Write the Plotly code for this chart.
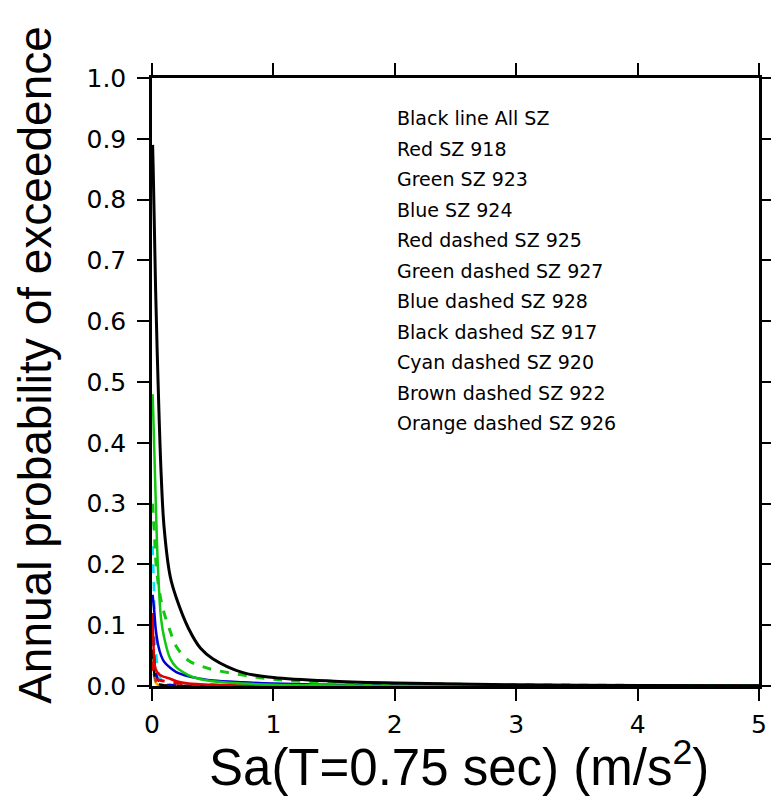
import plotly.graph_objects as go

# Spectral acceleration Sa (m/s^2)
sa = [0.005, 0.01, 0.02, 0.03, 0.05, 0.075, 0.1, 0.15, 0.2, 0.3, 0.4, 0.5,
      0.75, 1.0, 1.5, 2.0, 3.0, 4.0, 5.0]

# Annual probability of exceedence per source zone
all_sz = [0.89, 0.85, 0.75, 0.65, 0.50, 0.35, 0.26, 0.18, 0.145, 0.095, 0.062, 0.045,
          0.022, 0.014, 0.008, 0.005, 0.002, 0.001, 0.0006]
sz918 = [0.12, 0.08, 0.04, 0.028, 0.021, 0.017, 0.015, 0.012, 0.008, 0.004, 0.003, 0.002,
         0.001, 0.0005, 0.0003, 0.0002, 0.0001, 0.00005, 0.00003]
sz923 = [0.48, 0.45, 0.38, 0.31, 0.19, 0.11, 0.08, 0.045, 0.031, 0.018, 0.011, 0.008,
         0.004, 0.002, 0.001, 0.0005, 0.0002, 0.0001, 0.00005]
sz924 = [0.15, 0.14, 0.12, 0.095, 0.068, 0.05, 0.04, 0.03, 0.023, 0.016, 0.012, 0.009,
         0.006, 0.004, 0.002, 0.001, 0.0005, 0.0002, 0.0001]
sz925 = [0.04, 0.025, 0.015, 0.012, 0.01, 0.009, 0.008, 0.006, 0.005, 0.003, 0.002, 0.0015,
         0.0008, 0.0004, 0.0002, 0.0001, 0.00005, 0.00002, 0.00001]
sz927 = [0.30, 0.28, 0.25, 0.21, 0.17, 0.14, 0.12, 0.09, 0.065, 0.042, 0.033, 0.027,
         0.018, 0.011, 0.005, 0.004, 0.002, 0.001, 0.0005]
sz928 = [0.11, 0.08, 0.045, 0.025, 0.01, 0.005, 0.003, 0.0015, 0.001, 0.0005, 0.0003, 0.0002,
         0.0001, 0.00005, 0.00002, 0.00001, 0.0, 0.0, 0.0]
sz917 = [0.06, 0.04, 0.02, 0.01, 0.004, 0.002, 0.001, 0.0005, 0.0003, 0.0001, 0.00005, 0.00003,
         0.00001, 0.0, 0.0, 0.0, 0.0, 0.0, 0.0]
sz920 = [0.23, 0.20, 0.13, 0.07, 0.025, 0.01, 0.005, 0.002, 0.001, 0.0004, 0.0002, 0.0001,
         0.00005, 0.00002, 0.0, 0.0, 0.0, 0.0, 0.0]
sz922 = [0.05, 0.03, 0.015, 0.008, 0.003, 0.0015, 0.0008, 0.0004, 0.0002, 0.0001, 0.00005, 0.00002,
         0.00001, 0.0, 0.0, 0.0, 0.0, 0.0, 0.0]
sz926 = [0.04, 0.025, 0.012, 0.006, 0.002, 0.001, 0.0005, 0.0002, 0.0001, 0.00005, 0.00002, 0.00001,
         0.0, 0.0, 0.0, 0.0, 0.0, 0.0, 0.0]

legend_lines = ["Black line All SZ", "Red SZ 918", "Green SZ 923", "Blue SZ 924",
                "Red dashed SZ 925", "Green dashed SZ 927", "Blue dashed SZ 928",
                "Black dashed SZ 917", "Cyan dashed SZ 920", "Brown dashed SZ 922",
                "Orange dashed SZ 926"]

x_ticks = [0, 1, 2, 3, 4, 5]
y_ticks = [0.0, 0.1, 0.2, 0.3, 0.4, 0.5, 0.6, 0.7, 0.8, 0.9, 1.0]
y_ticklabels = ["%.1f" % v for v in y_ticks]

x_title = "Sa(T=0.75 sec) (m/s<sup>2</sup>)"
y_title = "Annual probability of exceedence"

GREEN = "#10c810"
BLUE = "#0000d0"
RED = "#e00000"

series = [
    (sz926, "orange", "dash", 2.5),
    (sz922, "#a0522d", "dash", 2.5),
    (sz920, "#00e5ff", "dash", 2.5),
    (sz917, "black", "dash", 2.5),
    (sz928, BLUE, "dash", 2.5),
    (sz925, RED, "dash", 3),
    (sz918, RED, "solid", 2.5),
    (sz924, BLUE, "solid", 2.5),
    (sz923, GREEN, "solid", 2.5),
    (sz927, GREEN, "dash", 3),
    (all_sz, "black", "solid", 3),
]

fig = go.Figure()
for ys, col, dash, w in series:
    fig.add_trace(go.Scatter(x=sa, y=ys, mode="lines", line_shape="spline",
                             line=dict(color=col, width=w, dash=dash),
                             showlegend=False, hoverinfo="skip"))

for i, txt in enumerate(legend_lines):
    fig.add_annotation(x=0.40, xref="x domain", y=0.934 - 0.0502 * i, yref="y",
                       text=txt, showarrow=False, xanchor="left", yanchor="middle",
                       font=dict(family="DejaVu Sans, sans-serif", size=19, color="black"))

# axis titles as annotations for precise placement
fig.add_annotation(x=0.505, xref="paper", y=-0.128, yref="paper", text=x_title,
                   showarrow=False, xanchor="center", yanchor="middle",
                   font=dict(family="Liberation Sans, Arial, sans-serif", size=51, color="black"))
fig.add_annotation(x=-0.193, xref="paper", y=0.528, yref="paper", text=y_title,
                   textangle=-90, showarrow=False, xanchor="center", yanchor="middle",
                   font=dict(family="Liberation Sans, Arial, sans-serif", size=46, color="black"))

axis_common = dict(showline=True, linecolor="black", linewidth=2.5, mirror="ticks",
                   ticks="outside", ticklen=12, tickwidth=2, tickcolor="black",
                   showgrid=False, zeroline=False, automargin=False,
                   tickfont=dict(family="DejaVu Sans, sans-serif", size=25, color="black"))

fig.update_xaxes(range=[0, 5], tickvals=x_ticks, ticktext=[str(v) for v in x_ticks],
                 ticklabelstandoff=2, **axis_common)
fig.update_yaxes(range=[0, 1], tickvals=y_ticks, ticktext=y_ticklabels,
                 ticklabelstandoff=6, **axis_common)

fig.update_layout(template="none", width=771, height=812,
                  margin=dict(l=152, r=12, t=78, b=126),
                  paper_bgcolor="white", plot_bgcolor="white")

# remove the default page margin so the figure fills the window exactly
fig.write_html("out.html", config={"displayModeBar": False},
               post_script="document.body.style.margin='0';document.body.style.overflow='hidden';")
